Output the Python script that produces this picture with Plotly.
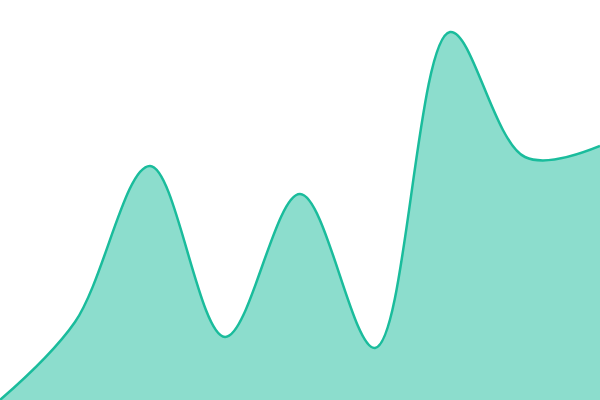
import plotly.graph_objects as go

# data points (evenly spaced)
x = [0, 1, 2, 3, 4, 5, 6, 7, 8]
y = [0, 78, 234, 63, 206, 52, 368, 243, 254]

fig = go.Figure(go.Scatter(
    x=x, y=y, mode='lines', fill='tozeroy',
    line=dict(color='#1abc9c', width=2.5, shape='spline', smoothing=1),
    fillcolor='rgba(26,188,156,0.5)'))

fig.update_xaxes(visible=False, range=[0, 8])
fig.update_yaxes(visible=False, range=[0, 400])
fig.update_layout(width=600, height=400, margin=dict(l=0, r=0, t=0, b=0),
                  plot_bgcolor='white', paper_bgcolor='white', showlegend=False)

# no modebar, and drop the page's default body margin so the chart sits flush
fig.write_html("out.html", config={'displayModeBar': False},
               post_script="document.body.style.margin='0';")
